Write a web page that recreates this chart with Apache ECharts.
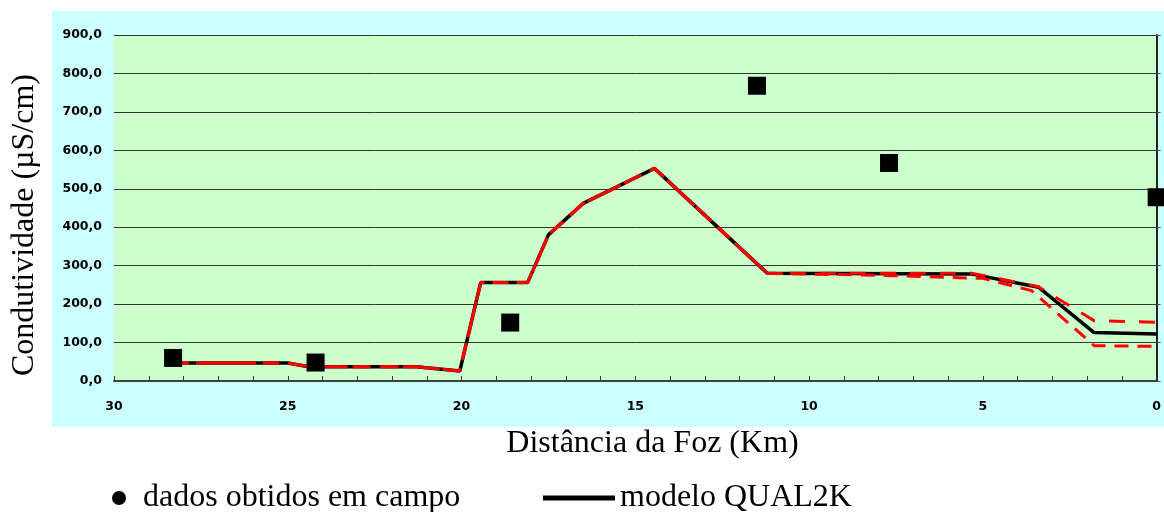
<!DOCTYPE html>
<html>
<head>
<meta charset="utf-8">
<script src="https://cdn.jsdelivr.net/npm/echarts@6/dist/echarts.min.js"></script>
<style>
html,body{margin:0;padding:0;background:#fff;}
#chart{width:1164px;height:512px;}
</style>
</head>
<body>
<div id="chart"></div>
<script>
// Observed field data (distance from mouth in km, conductivity µS/cm)
const obsKm  = [28.3, 24.2, 18.6, 11.5, 7.7, 0.0];
const obsVal = [60, 48, 152, 768, 567, 478];

// QUAL2K model (black solid)
const modelKm  = [28.3, 25.0, 24.4, 21.3, 20.05, 19.45, 18.1, 17.5, 16.5, 14.45, 11.2, 5.3, 3.4, 1.8, 0.0];
const modelVal = [47, 47, 37, 37, 26, 256, 256, 380, 462, 553, 280, 278, 244, 126, 122];

// Upper scenario (red dashed)
const upperKm  = [28.3, 25.0, 24.4, 21.3, 20.05, 19.45, 18.1, 17.5, 16.5, 14.45, 11.2, 5.3, 3.4, 1.8, 0.0];
const upperVal = [47, 47, 37, 37, 26, 256, 256, 380, 462, 553, 280, 280, 245, 157, 153];

// Lower scenario (red dashed)
const lowerKm  = [28.3, 25.0, 24.4, 21.3, 20.05, 19.45, 18.1, 17.5, 16.5, 14.45, 11.2, 8.0, 5.0, 3.6, 1.8, 0.0];
const lowerVal = [47, 47, 37, 37, 26, 256, 256, 380, 462, 553, 280, 275, 267, 235, 92, 90];

const xTitle = 'Distância da Foz (Km)';
const yTitle = 'Condutividade (µS/cm)';
const legendObs = 'dados obtidos em campo';
const legendModel = 'modelo QUAL2K';

const zip = (a, b) => a.map((v, i) => [v, b[i]]);
const serif = 'Liberation Serif';
const tickFont = {fontFamily: 'DejaVu Sans', fontWeight: 'bold', fontSize: 12.5, color: '#000'};

const chart = echarts.init(document.getElementById('chart'), null, {renderer: 'canvas'});
chart.setOption({
  animation: false,
  backgroundColor: '#ffffff',
  graphic: [
    {type: 'rect', left: 52, top: 11, z: -10, shape: {width: 1112, height: 416}, style: {fill: '#CCFFFF'}},
    {type: 'text', x: 652.5, y: 444, z: 10,
      style: {text: xTitle, font: '32px "Liberation Serif"', fill: '#000', textAlign: 'center', textVerticalAlign: 'middle'}},
    {type: 'text', x: 25, y: 225, rotation: Math.PI / 2, z: 10,
      style: {text: yTitle, font: '32px "Liberation Serif"', fill: '#000', textAlign: 'center', textVerticalAlign: 'middle'}}
  ],
  grid: {left: 114, top: 35, width: 1044, height: 346, show: true, backgroundColor: '#CCFFCC', borderWidth: 0},
  legend: [
    {data: [{name: legendObs, icon: 'circle'}], left: 107, top: 477, itemWidth: 14, itemHeight: 14,
      selectedMode: false, itemStyle: {opacity: 1},
      textStyle: {fontFamily: serif, fontSize: 32, color: '#000', padding: [0, 0, 0, 12]}},
    {data: [{name: legendModel, icon: 'rect'}], left: 538, top: 477, itemWidth: 72, itemHeight: 5,
      selectedMode: false, textStyle: {fontFamily: serif, fontSize: 32, color: '#000'}}
  ],
  xAxis: {
    type: 'value', inverse: true, min: 0, max: 30, interval: 5,
    axisLine: {show: true, onZero: false, lineStyle: {color: '#404040', width: 2}},
    axisTick: {show: true, inside: true, length: 5, lineStyle: {color: '#333', width: 1}},
    minorTick: {show: true, splitNumber: 5, length: 5, lineStyle: {color: '#333', width: 1}},
    splitLine: {show: false},
    axisLabel: Object.assign({margin: 19}, tickFont)
  },
  yAxis: [
    {
      type: 'value', position: 'left', min: 0, max: 900, interval: 100,
      axisLine: {show: true, lineStyle: {color: '#808080', width: 2}},
      axisTick: {show: false},
      splitLine: {show: true, lineStyle: {color: '#333', width: 1}},
      axisLabel: Object.assign({margin: 12, formatter: v => v.toFixed(1).replace('.', ',')}, tickFont)
    },
    {
      type: 'value', position: 'right', min: 0, max: 900, interval: 100,
      axisLine: {show: true, lineStyle: {color: '#000', width: 1.5}},
      axisTick: {show: true, inside: false, length: 4, lineStyle: {color: '#555'}},
      splitLine: {show: false},
      axisLabel: {show: false}
    }
  ],
  series: [
    {name: legendModel, type: 'line', data: zip(modelKm, modelVal), showSymbol: false, symbol: 'none',
      lineStyle: {color: '#000', width: 3.5}, itemStyle: {color: '#000'}, z: 2},
    {name: 'cenário superior', type: 'line', data: zip(upperKm, upperVal), showSymbol: false, symbol: 'none',
      lineStyle: {color: '#FF0000', width: 3, type: [16, 14]}, itemStyle: {color: '#FF0000'}, z: 3},
    {name: 'cenário inferior', type: 'line', data: zip(lowerKm, lowerVal), showSymbol: false, symbol: 'none',
      lineStyle: {color: '#FF0000', width: 3, type: [14, 9]}, itemStyle: {color: '#FF0000'}, z: 3},
    {name: legendObs, type: 'scatter', data: zip(obsKm, obsVal), symbol: 'rect', symbolSize: 18,
      itemStyle: {color: '#000', opacity: 1}, z: 5}
  ]
});
</script>
</body>
</html>
